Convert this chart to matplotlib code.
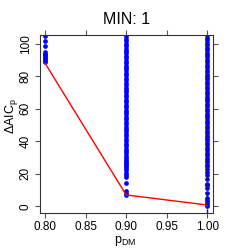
import matplotlib
matplotlib.use("Agg")
import matplotlib.pyplot as plt

plt.rcParams["font.family"] = ["Liberation Sans", "DejaVu Sans"]

# Data
p_dm_080 = [104.7, 101.8, 98.8, 94.9, 93.9, 93.0, 92.1, 91.2, 90.3, 89.4, 88.8]
p_dm_090 = [7.0, 8.0, 9.6, 14.1, 18.2, 19.5, 20.3, 22.4, 23.5, 24.5, 25.5,
            26.5, 27.5, 28.5, 29.5, 31.0, 32.5, 34.0, 35.5, 37.0, 38.5, 40.0,
            41.5, 43.0, 44.5, 46.0, 47.5, 49.0, 50.5, 52.0, 53.5, 55.0, 56.5,
            58.0, 59.5, 61.0, 62.5, 64.0, 65.5, 67.0, 68.5, 70.0, 71.5, 73.0,
            74.5, 76.0, 77.5, 79.0, 80.5, 82.0, 83.5, 85.0, 86.5, 88.0, 89.5,
            91.0, 92.5, 94.0, 95.5, 97.0, 98.5, 100.0, 101.5, 103.0, 104.5]
p_dm_100 = [0.5, 1.2, 2.5, 4.0, 5.0, 8.0, 11.0, 13.0, 14.0, 17.0, 19.0, 21.0,
            23.0, 24.5, 25.5, 27.0, 28.5, 30.0, 31.5, 33.0, 34.5, 36.0, 37.5,
            39.0, 40.5, 42.0, 43.5, 45.0, 46.5, 48.0, 49.5, 51.0, 52.5, 54.0,
            55.5, 57.0, 58.5, 60.0, 61.5, 63.0, 64.5, 66.0, 67.5, 69.0, 70.5,
            72.0, 73.5, 75.0, 76.5, 78.0, 79.5, 81.0, 82.5, 84.0, 85.5, 87.0,
            88.5, 90.0, 91.5, 93.0, 94.5, 96.0, 97.5, 99.0, 100.5, 102.0,
            103.5, 105.0]
min_x = [0.80, 0.90, 1.00]
min_y = [88.0, 7.0, 0.8]
x_ticks = [0.80, 0.85, 0.90, 0.95, 1.00]
y_ticks = [0, 20, 40, 60, 80, 100]

fig = plt.figure(figsize=(2.49, 2.49), dpi=100)
ax = fig.add_axes([40 / 249, 36 / 249, 173 / 249, 178 / 249])

for xv, ys in [(0.80, p_dm_080), (0.90, p_dm_090), (1.00, p_dm_100)]:
    ax.plot([xv] * len(ys), ys, "o", color="blue", markersize=3.4,
            markeredgewidth=0, clip_on=True)
ax.plot(min_x, min_y, color="red", linewidth=1.0)
ax.axvline(1.0, color="#222222", linestyle=(0, (3, 3)), linewidth=1.0)

ax.set_xlim(0.7938, 1.007)
ax.set_ylim(-4.1, 105.3)
ax.set_xticks(x_ticks)
ax.set_xticklabels(["%.2f" % v for v in x_ticks])
ax.set_yticks(y_ticks)
ax.set_yticklabels([str(v) for v in y_ticks], rotation=90, va="center")
ax.tick_params(direction="out", length=3.5, width=0.8, color="#555555",
               labelsize=8.5, pad=2.5, top=True, right=True)
ax.tick_params(axis="x", pad=2)
for s in ax.spines.values():
    s.set_linewidth(0.8)
    s.set_color("#333333")

ax.set_title("MIN: 1", fontsize=11.5, pad=8)
ax.set_xlabel(r"$\mathregular{p_{DM}}$", fontsize=9)
ax.set_ylabel(r"$\mathregular{\Delta AIC_p}$", fontsize=9)
ax.xaxis.set_label_coords((125 - 40) / 173, -(241 - 213) / 178)
ax.yaxis.set_label_coords(-(40 - 11) / 173, (213 - 116) / 178)
ax.xaxis.label.set_va("center")
ax.yaxis.label.set_va("center")

fig.savefig("out.png", dpi=100)
